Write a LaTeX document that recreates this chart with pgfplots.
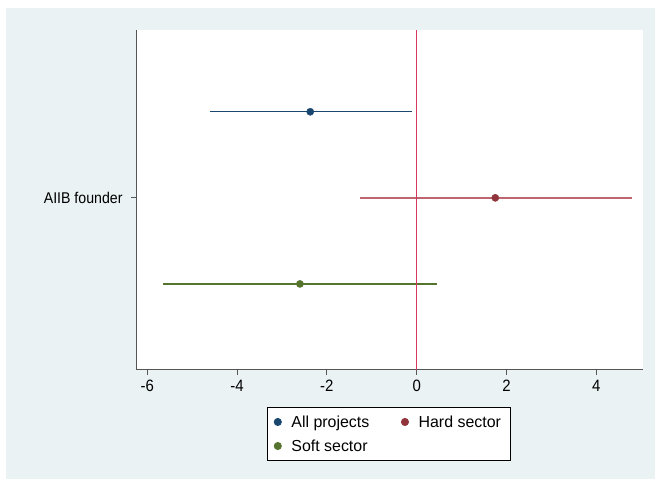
\documentclass[border=0pt]{standalone}
\usepackage{fontspec}
\setmainfont{Liberation Sans}
\usepackage{pgfplots}
\pgfplotsset{compat=1.18}

\definecolor{bgpanel}{HTML}{EAF2F3}
\definecolor{stnavy}{HTML}{1A476F}
\definecolor{stmaroon}{HTML}{90353B}
\definecolor{stgreen}{HTML}{55752F}
\definecolor{zeroline}{HTML}{D6375F}
\definecolor{hardci}{HTML}{BE6570}
\definecolor{axisgray}{HTML}{555555}

\begin{document}
\begin{tikzpicture}[x=1bp,y=1bp]
  % page extent and outer panel
  \path (0,0) rectangle (655,479);
  \fill[bgpanel] (6,0) rectangle (655,471);
  \begin{axis}[
    at={(136bp,109bp)}, anchor=south west,
    scale only axis, width=507bp, height=340bp,
    xmin=-6.25, xmax=5.04, ymin=-2, ymax=1.95,
    axis x line*=bottom, axis y line*=left,
    axis line style={axisgray, line width=1bp},
    axis background/.style={fill=white},
    xtick={-6,-4,...,4},
    ytick={0}, yticklabels={AIIB founder},
    tick align=outside, major tick length=5bp,
    tick style={axisgray, line width=0.8bp},
    font=\fontsize{15}{18}\selectfont,
    /pgf/number format/assume math mode=true,
    xticklabel style={yscale=1.1, yshift=-1bp},
    yticklabel style={yscale=1.1, xshift=-5bp,
      font=\fontsize{14.2}{17}\selectfont},
    clip=false,
    legend columns=2,
    legend image code/.code={%
      \draw[mark repeat=1, mark phase=1, #1] plot coordinates {(0bp,0bp)};},
    legend style={
      at={(0.258,-0.109)}, anchor=north west,
      draw=black, line width=0.8bp, fill=white,
      font=\fontsize{16}{19}\selectfont,
      inner xsep=7bp, inner ysep=5.5bp,
      nodes={inner xsep=2bp, inner ysep=2.5bp},
      /tikz/every odd column/.append style={column sep=8bp},
      /tikz/every even column/.append style={column sep=30bp},
      row sep=6bp,
    },
    legend cell align=left,
  ]
    % confidence intervals
    \addplot[forget plot, draw=stnavy, line width=1.3bp]
      coordinates {(-4.61,1) (-0.10,1)};
    \addplot[forget plot, draw=hardci, line width=1.4bp]
      coordinates {(-1.26,0) (4.80,0)};
    \addplot[forget plot, draw=stgreen, line width=1.3bp]
      coordinates {(-5.64,-1) (0.45,-1)};
    % reference line at zero
    \draw[zeroline, line width=1.4bp] (axis cs:0,-2) -- (axis cs:0,1.95);
    % point estimates
    \addplot[only marks, mark=*, mark size=3.6bp, stnavy]
      coordinates {(-2.37,1)};
    \addlegendentry{All projects}
    \addplot[only marks, mark=*, mark size=3.6bp, stmaroon]
      coordinates {(1.75,0)};
    \addlegendentry{Hard sector}
    \addplot[only marks, mark=*, mark size=3.6bp, stgreen]
      coordinates {(-2.60,-1)};
    \addlegendentry{Soft sector}
  \end{axis}
\end{tikzpicture}
\end{document}
